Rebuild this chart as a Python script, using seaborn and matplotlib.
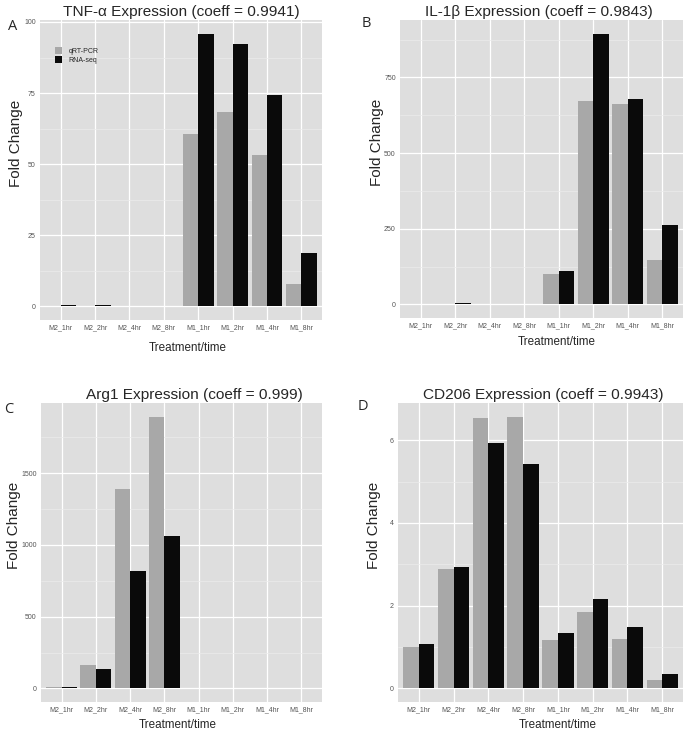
import matplotlib
matplotlib.use('Agg')
import matplotlib.pyplot as plt
import numpy as np
import pandas as pd
import seaborn as sns
from matplotlib.ticker import MultipleLocator

sns.set_style('darkgrid', {'axes.facecolor': '#DEDEDE', 'grid.color': 'white'})
plt.rcParams['font.family'] = ['Liberation Sans', 'DejaVu Sans']

times = ['M2_1hr', 'M2_2hr', 'M2_4hr', 'M2_8hr', 'M1_1hr', 'M1_2hr', 'M1_4hr', 'M1_8hr']
methods = ['qRT-PCR', 'RNA-seq']

# values
tnf_qpcr = [0.2, 0.3, 0.2, 0.1, 60.5, 68.4, 53.4, 8.0]
tnf_rna = [0.5, 0.4, 0.3, 0.2, 95.9, 92.3, 74.4, 18.9]
il1b_qpcr = [1, 2, 0.5, 0.3, 99, 673, 662, 148]
il1b_rna = [2, 4, 1.5, 1, 109, 895, 679, 261]
arg1_qpcr = [12, 163, 1388, 1895, 0.5, 1, 1, 1]
arg1_rna = [12, 135, 821, 1063, 0.5, 2, 2, 1.5]
cd206_qpcr = [0.99, 2.89, 6.53, 6.57, 1.17, 1.85, 1.19, 0.20]
cd206_rna = [1.07, 2.93, 5.93, 5.42, 1.35, 2.17, 1.49, 0.34]

titles = ['TNF-α Expression (coeff = 0.9941)', 'IL-1β Expression (coeff = 0.9843)',
          'Arg1 Expression (coeff = 0.999)', 'CD206 Expression (coeff = 0.9943)']
letters = ['A', 'B', 'C', 'D']
ysteps = [25, 250, 500, 2]
series = [(tnf_qpcr, tnf_rna), (il1b_qpcr, il1b_rna), (arg1_qpcr, arg1_rna), (cd206_qpcr, cd206_rna)]

W, H = 685, 735
# panel boxes in pixels: x1, y1, x2, y2
boxes = [(40, 20, 322, 320), (400, 20, 683, 318), (41, 403, 322, 702), (398, 403, 683, 702)]
letter_pos = [(8, 30), (362, 27), (4, 413), (358, 410)]
title_x = [0.502, 0.491, 0.545, 0.51]
ylab_x = [-0.085, -0.081, -0.097, -0.084]
xlab_pos = [(0.525, -0.093), (0.555, -0.08), (0.488, -0.078), (0.561, -0.078)]

fig = plt.figure(figsize=(W / 100, H / 100), dpi=100)

for i in range(4):
    x1, y1, x2, y2 = boxes[i]
    ax = fig.add_axes([x1 / W, 1 - y2 / H, (x2 - x1) / W, (y2 - y1) / H])
    q, r = series[i]
    df = pd.DataFrame({'time': times * 2,
                       'method': [methods[0]] * 8 + [methods[1]] * 8,
                       'value': q + r})
    sns.barplot(data=df, x='time', y='value', hue='method', order=times, hue_order=methods,
                palette=['#A8A8A8', '#0A0A0A'], width=0.9, linewidth=0, ax=ax)
    top = max(max(q), max(r))
    ax.set_ylim(-0.05 * top, top * 1.05)
    ax.set_xlim(-0.6, 7.6)
    ax.yaxis.set_major_locator(MultipleLocator(ysteps[i]))
    ax.yaxis.set_minor_locator(MultipleLocator(ysteps[i] / 2))
    ax.grid(which='major', color='white', linewidth=0.9)
    ax.grid(which='minor', axis='y', color='#EBEBEB', linewidth=0.5)
    ax.set_axisbelow(True)
    ax.tick_params(axis='both', which='major', length=1.5, width=0.5, color='#666666',
                   labelsize=5, labelcolor='#555555', pad=1.5)
    ax.tick_params(axis='y', which='minor', length=0)
    for s in ax.spines.values():
        s.set_visible(False)
    ax.set_title(titles[i], fontsize=11.1, pad=3, x=title_x[i])
    ax.set_ylabel('Fold Change', fontsize=11)
    ax.yaxis.set_label_coords(ylab_x[i], 0.59)
    ax.yaxis.label.set_va('center')
    ax.set_xlabel('Treatment/time', fontsize=8.4)
    ax.xaxis.set_label_coords(*xlab_pos[i])
    ax.xaxis.label.set_va('center')
    if i == 0:
        ax.legend(loc='upper left', bbox_to_anchor=(0.03, 0.93), frameon=False, title=None,
                  fontsize=5, handlelength=1.1, handleheight=1.1, handletextpad=0.9,
                  labelspacing=0.15)
    else:
        ax.get_legend().remove()
    lx, ly = letter_pos[i]
    fig.text(lx / W, 1 - ly / H, letters[i], fontsize=10.5, family=['Open Sans', 'DejaVu Sans'])

fig.savefig('out.png', dpi=100)
